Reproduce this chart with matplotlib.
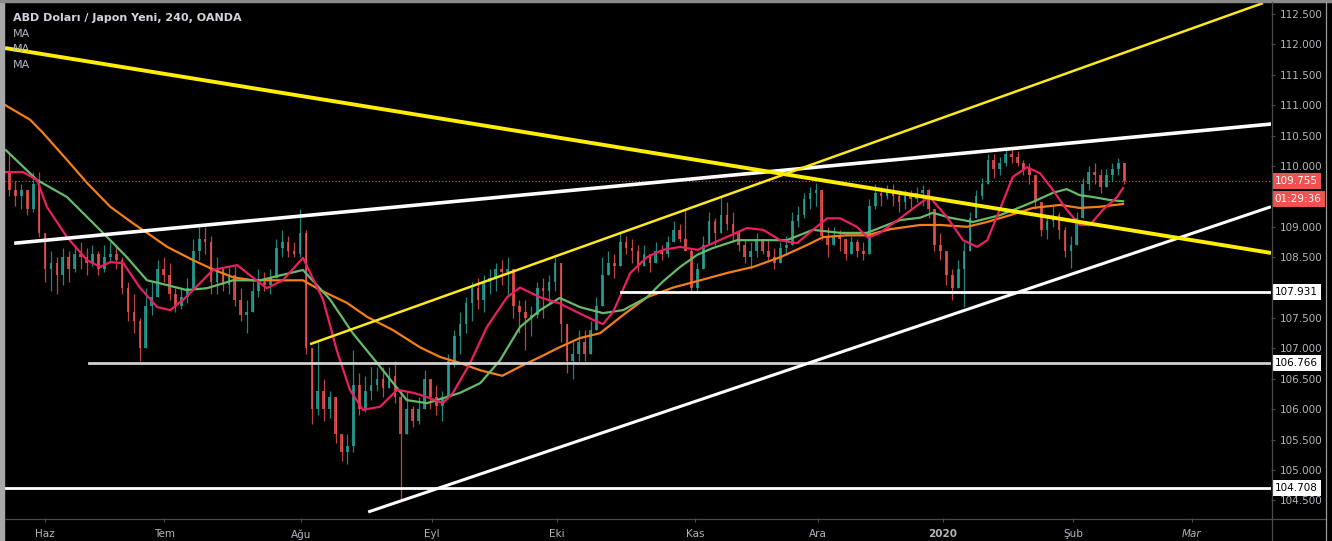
import numpy as np
import matplotlib
import matplotlib.pyplot as plt
from matplotlib.lines import Line2D
from matplotlib.patches import Rectangle
from matplotlib.transforms import blended_transform_factory

matplotlib.use('Agg')
plt.rcParams['font.family'] = ['DejaVu Sans']

W, H = 1332, 541

# daily sessions, index 0 = first session of June 2019
first_day = -6
closes = [
    109.6, 109.5, 109.6, 109.3, 109.7, 108.9, 108.3, 108.4, 108.2, 108.5,
    108.3, 108.55, 108.5, 108.4, 108.55, 108.3, 108.5, 108.55, 108.45, 108.0,
    107.6, 107.45, 107.0, 107.7, 107.85, 108.3, 108.2, 107.9, 107.7, 107.85,
    108.0, 108.6, 108.8, 108.75, 108.1, 108.3, 108.05, 108.2, 107.8, 107.55,
    107.6, 107.95, 108.1, 108.05, 108.15, 108.65, 108.75, 108.6, 108.55, 108.9,
    107.0, 106.0, 106.3, 106.0, 106.2, 105.6, 105.3, 105.4, 106.4, 106.0,
    106.3, 106.4, 106.5, 106.35, 106.55, 106.2, 105.6, 106.0, 105.8, 106.0,
    106.5, 106.2, 106.05, 106.2, 106.8, 107.2, 107.4, 107.75, 108.0, 107.8,
    108.1, 108.15, 108.3, 108.25, 108.3, 107.7, 107.6, 107.5, 107.55, 108.0,
    107.95, 108.1, 108.4, 107.4, 106.8, 106.9, 107.1, 106.9, 107.3, 107.7,
    108.2, 108.4, 108.35, 108.75, 108.65, 108.6, 108.35, 108.55, 108.4, 108.6,
    108.55, 108.75, 108.95, 108.8, 108.6, 108.0, 108.3, 108.7, 109.1, 108.9,
    109.2, 109.05, 108.9, 108.7, 108.5, 108.6, 108.8, 108.6, 108.5, 108.4,
    108.65, 108.7, 109.1, 109.2, 109.45, 109.55, 109.6, 108.85, 108.7, 108.85,
    108.8, 108.55, 108.75, 108.6, 108.55, 109.35, 109.55, 109.5, 109.6, 109.5,
    109.4, 109.5, 109.45, 109.55, 109.6, 109.3, 108.7, 108.6, 108.2, 108.0,
    108.3, 108.6, 109.15, 109.5, 109.7, 110.1, 109.95, 110.05, 110.2, 110.15,
    110.05, 109.95, 109.85, 109.4, 108.95, 109.1, 109.2, 108.95, 108.6, 108.7,
    109.15, 109.7, 109.9, 109.85, 109.65, 109.85, 109.95, 110.05, 109.755,
]
highs = [
    110.2, 109.75, 109.7, 109.6, 109.9, 109.9, 108.6, 108.6, 108.5, 108.65,
    108.6, 108.7, 108.75, 108.65, 108.7, 108.6, 108.7, 108.75, 108.7, 108.5,
    108.1, 107.9, 107.5, 108.0, 108.1, 108.45, 108.5, 108.4, 108.0, 108.0,
    108.15, 108.8, 109.0, 109.0, 108.85, 108.5, 108.3, 108.35, 108.35, 108.0,
    107.8, 108.1, 108.3, 108.25, 108.3, 108.8, 108.95, 108.85, 108.75, 109.3,
    108.95, 107.0, 107.1, 106.5, 106.3, 106.0, 105.6, 105.6, 106.97, 106.6,
    106.55, 106.7, 106.7, 106.7, 106.7, 106.8, 106.3, 106.3, 106.05, 106.2,
    106.65, 106.5, 106.4, 106.3, 106.9, 107.3, 107.6, 107.85, 108.1, 108.15,
    108.2, 108.3, 108.4, 108.45, 108.5, 108.1, 107.8, 107.8, 107.7, 108.1,
    108.15, 108.2, 108.5, 108.4, 107.3, 107.1, 107.3, 107.3, 107.45, 107.85,
    108.5, 108.6, 108.55, 108.9, 108.85, 108.8, 108.7, 108.7, 108.55, 108.75,
    108.7, 108.85, 109.1, 109.05, 109.27, 108.65, 108.4, 108.85, 109.25, 109.15,
    109.5, 109.4, 109.25, 108.95, 108.8, 108.75, 108.9, 108.8, 108.8, 108.65,
    108.75, 108.85, 109.25, 109.35, 109.55, 109.65, 109.72, 109.6, 109.0, 109.0,
    108.95, 108.8, 108.85, 108.8, 108.75, 109.45, 109.7, 109.65, 109.68, 109.7,
    109.6, 109.6, 109.6, 109.65, 109.68, 109.62, 109.25, 108.9, 108.6, 108.3,
    108.45, 108.75, 109.25, 109.6, 109.8, 110.2, 110.2, 110.15, 110.3, 110.28,
    110.25, 110.1, 110.05, 109.75, 109.35, 109.2, 109.35, 109.25, 109.0, 108.85,
    109.25, 109.8, 110.0, 110.05, 109.95, 109.95, 110.05, 110.13, 110.0,
]
lows = [
    109.5, 109.35, 109.3, 109.2, 109.25, 108.83, 108.1, 107.95, 107.9, 108.05,
    108.1, 108.25, 108.3, 108.2, 108.35, 108.2, 108.25, 108.4, 108.3, 107.9,
    107.45, 107.25, 106.8, 107.0, 107.55, 107.85, 108.1, 107.8, 107.6, 107.65,
    107.75, 108.1, 108.45, 108.55, 107.9, 107.9, 107.95, 107.9, 107.7, 107.45,
    107.25, 107.6, 107.85, 107.95, 107.9, 108.35, 108.5, 108.5, 108.5, 108.5,
    106.9, 105.75, 105.9, 105.8, 105.85, 105.45, 105.15, 105.1, 105.3, 105.9,
    105.95, 106.15, 106.3, 106.2, 106.4, 106.1, 104.5, 105.65, 105.7, 105.75,
    106.1, 106.0, 105.9, 105.8, 106.3, 106.7, 106.9, 107.25, 107.45, 107.65,
    107.6, 107.9, 107.95, 108.05, 107.85, 107.5, 107.25, 106.97, 107.2, 107.5,
    107.5, 107.75, 107.95, 107.1, 106.6, 106.5, 106.8, 106.8, 107.0, 107.3,
    107.8, 108.25, 108.15, 108.5, 108.55, 108.4, 108.25, 108.35, 108.25, 108.4,
    108.45, 108.5, 108.8, 108.75, 108.6, 107.93, 107.95, 108.4, 108.75, 108.7,
    109.0, 108.95, 108.75, 108.6, 108.4, 108.3, 108.5, 108.55, 108.45, 108.3,
    108.4, 108.55, 108.8, 109.0, 109.15, 109.3, 109.35, 108.78, 108.5, 108.7,
    108.6, 108.45, 108.55, 108.5, 108.45, 108.6, 109.3, 109.35, 109.45, 109.35,
    109.25, 109.3, 109.3, 109.4, 109.35, 109.15, 108.6, 108.45, 108.05, 107.8,
    108.0, 107.68, 108.6, 109.15, 109.45, 109.7, 109.8, 109.85, 110.0, 110.05,
    110.0, 109.85, 109.7, 109.3, 108.85, 108.8, 109.0, 108.8, 108.5, 108.32,
    108.7, 109.15, 109.6, 109.7, 109.55, 109.65, 109.75, 109.85, 109.7,
]
first_open = 109.9

# moving averages (session index, price)
ma_fast_x = [-6.6, -3.7, -1.35, 0.3, 3.7, 7.1, 9.3, 11.0, 13.2, 16.0, 18.9, 21.1, 23.3, 26.1,
             28.3, 32.4, 34.6, 37.4, 40.1, 43.5, 46.9, 49.2, 51.4, 53.6, 56.5, 59.4, 62.1,
             64.4, 67.1, 68.8, 71.7, 74.5, 77.9, 80.1, 83.5, 86.8, 89.0, 92.4, 94.1, 95.8,
             98.7, 101.5, 104.2, 107.1, 110.0, 112.6, 118.4, 121.1, 124.0, 126.8, 129.5,
             131.9, 134.1, 136.9, 138.8, 140.8, 144.2, 147.6, 149.2, 152.1, 154.8, 157.2,
             158.9, 161.0, 163.2, 165.6, 167.8, 170.0, 172.3, 174.5, 176.2, 178.4, 180.8, 181.8]
ma_fast_y = [109.9, 109.9, 109.77, 109.33, 108.83, 108.45, 108.34, 108.42, 108.4, 108.0, 107.68,
             107.63, 107.8, 108.07, 108.29, 108.37, 108.2, 107.99, 108.12, 108.49, 107.8, 106.97,
             106.32, 105.99, 106.04, 106.32, 106.27, 106.2, 106.1, 106.27, 106.76, 107.35, 107.84,
             108.0, 107.84, 107.74, 107.63, 107.47, 107.4, 107.6, 108.24, 108.5, 108.62, 108.67,
             108.62, 108.73, 108.98, 108.95, 108.78, 108.73, 108.95, 109.14, 109.14, 109.0, 108.82,
             108.9, 109.14, 109.39, 109.49, 109.16, 108.78, 108.67, 108.78, 109.28, 109.82, 109.98,
             109.88, 109.6, 109.28, 109.03, 109.03, 109.28, 109.49, 109.64]

ma_mid_x = [-6.6, -1.35, 3.7, 7.1, 11.0, 13.8, 17.2, 19.4, 23.9, 27.3, 31.7, 36.3, 39.6, 43.5,
            48.1, 51.9, 56.0, 58.7, 61.0, 64.4, 67.1, 70.0, 73.4, 76.7, 80.1, 83.5, 86.8, 90.2,
            94.1, 97.5, 101.5, 104.2, 107.1, 110.0, 112.6, 116.7, 121.1, 125.1, 129.5, 134.1,
            138.6, 142.0, 144.2, 147.6, 149.7, 152.6, 156.5, 161.0, 163.9, 166.6, 170.0, 172.3,
            174.5, 176.7, 179.6, 181.8]
ma_mid_y = [110.26, 109.77, 109.49, 109.16, 108.78, 108.5, 108.12, 108.07, 107.96, 107.99, 108.12,
            108.12, 108.2, 108.29, 107.8, 107.25, 106.76, 106.43, 106.15, 106.1, 106.18, 106.27,
            106.43, 106.8, 107.35, 107.63, 107.83, 107.68, 107.58, 107.63, 107.84, 108.1, 108.34,
            108.54, 108.65, 108.78, 108.78, 108.78, 108.95, 108.9, 108.9, 109.03, 109.11, 109.15,
            109.23, 109.15, 109.08, 109.19, 109.3, 109.41, 109.56, 109.62, 109.52, 109.49, 109.44,
            109.42]

ma_slow_x = [-6.7, -2.5, -0.3, 3.7, 7.1, 11.0, 14.8, 17.2, 20.6, 25.0, 28.3, 31.7, 35.1, 39.6,
             43.5, 46.4, 50.9, 54.3, 58.7, 63.2, 66.6, 70.0, 73.4, 77.1, 80.1, 83.5, 86.8, 90.2,
             93.6, 97.5, 101.5, 105.9, 110.5, 115.0, 119.4, 124.0, 128.5, 131.2, 135.2, 138.6,
             142.5, 147.6, 151.0, 155.5, 158.9, 162.7, 166.6, 171.2, 174.5, 177.9, 181.8]
ma_slow_y = [111.0, 110.76, 110.54, 110.1, 109.72, 109.33, 109.06, 108.9, 108.67, 108.45, 108.3,
             108.17, 108.12, 108.12, 108.12, 107.96, 107.75, 107.52, 107.3, 107.02, 106.86, 106.76,
             106.64, 106.55, 106.7, 106.86, 107.02, 107.17, 107.25, 107.55, 107.84, 108.0, 108.12,
             108.24, 108.34, 108.5, 108.7, 108.83, 108.86, 108.86, 108.96, 109.03, 109.03, 109.0,
             109.08, 109.19, 109.31, 109.36, 109.31, 109.33, 109.375]

# drawings: (x0, y0, x1, y1)
yellow_fall = (-6.75, 111.94, 206.75, 108.57)
yellow_rise = (44.7, 107.07, 205.4, 112.68)
white_upper = (-5.2, 108.73, 206.75, 110.69)
white_lower = (54.5, 104.31, 206.75, 109.33)
levels = [107.931, 106.766, 104.708]
level_start = [97.1, 7.4, -7.0]
last_price = 109.755
countdown = '01:29:36'

# 108.000 and 109.500 sit under the price tags, so they are not shown
price_ticks = [104.5, 105.0, 105.5, 106.0, 106.5, 107.0, 107.5, 108.5,
               109.0, 110.0, 110.5, 111.0, 111.5, 112.0, 112.5]
month_pos = [0, 20.1, 43.2, 65.3, 86.3, 109.6, 130.3, 151.4, 173.4, 193.4]
month_labels = ['Haz', 'Tem', 'Ağu', 'Eyl', 'Eki', 'Kas', 'Ara', '2020', 'Şub', 'Mar']

up_col, down_col = '#26a69a', '#ef5350'

fig = plt.figure(figsize=(W / 100, H / 100), dpi=100, facecolor='black')
ax = fig.add_axes([5 / W, 23 / H, 1266 / W, 516 / H], facecolor='black')
ax.set_xlim(-6.75, 206.75)
ax.set_ylim(104.211, 112.697)

days = np.arange(first_day, first_day + len(closes))
c = np.array(closes)
o = np.concatenate([[first_open], c[:-1]])
hi = np.maximum(np.array(highs), np.maximum(o, c))
lo = np.minimum(np.array(lows), np.minimum(o, c))
up = c >= o
colors = np.where(up, up_col, down_col)

ax.vlines(days, lo, hi, colors=colors, lw=0.9, alpha=0.8, zorder=2)
ax.bar(days, np.maximum(np.abs(c - o), 0.02), bottom=np.minimum(o, c), width=0.45,
       color=colors, alpha=0.8, zorder=2, linewidth=0)

ax.plot(ma_slow_x, ma_slow_y, color='#f57f17', lw=1.6, zorder=3)
ax.plot(ma_mid_x, ma_mid_y, color='#66bb6a', lw=1.6, zorder=3)
ax.plot(ma_fast_x, ma_fast_y, color='#e91e63', lw=1.6, zorder=3)

ax.axhline(last_price, color='#ef5350', lw=0.8, ls=(0, (1, 2)), zorder=3)

for lv, x0 in zip(levels, level_start):
    col = '#d0d0d0' if lv == 106.766 else 'white'
    ax.plot([x0, 206.75], [lv, lv], color=col, lw=2, zorder=4)

for seg, col, lw in [(white_upper, 'white', 2.6), (white_lower, 'white', 2.2),
                     (yellow_rise, '#ffe81a', 1.8), (yellow_fall, '#ffee00', 2.8)]:
    ax.plot([seg[0], seg[2]], [seg[1], seg[3]], color=col, lw=lw, zorder=5,
            solid_capstyle='butt')

for s in ax.spines.values():
    s.set_visible(False)

ax.yaxis.tick_right()
ax.set_yticks(price_ticks)
ax.set_yticklabels([f'{t:.3f}' for t in price_ticks])
ax.tick_params(axis='y', colors='#4a4a4a', labelcolor='#b2b5be', labelsize=7.5,
               length=3, width=0.8, pad=3)
ax.set_xticks(month_pos)
ax.set_xticklabels(month_labels)
ax.tick_params(axis='x', colors='#4a4a4a', labelcolor='#b2b5be', labelsize=7.5,
               length=3, width=0.8, pad=5)
for lab in ax.get_xticklabels():
    if lab.get_text() == '2020':
        lab.set_fontweight('bold')
    if lab.get_text() == 'Mar':
        lab.set_fontstyle('italic')

# price tags on the right axis
tr = blended_transform_factory(ax.transAxes, ax.transData)
for lv in levels:
    ax.text(1.003, lv, f'{lv:.3f}', transform=tr, ha='left', va='center', fontsize=7.5,
            color='black', bbox=dict(boxstyle='square,pad=0.3', fc='white', ec='none'),
            zorder=10, clip_on=False)
ax.text(1.003, last_price, f'{last_price:.3f}', transform=tr, ha='left', va='center',
        fontsize=7.5, color='white', zorder=10, clip_on=False,
        bbox=dict(boxstyle='square,pad=0.3', fc='#ef5350', ec='none'))
ax.annotate(countdown, xy=(1.003, last_price), xycoords=tr, xytext=(0, -13),
            textcoords='offset points', ha='left', va='center', fontsize=7.5,
            color='white', annotation_clip=False, zorder=10,
            bbox=dict(boxstyle='square,pad=0.3', fc='#ef5350', ec='none'))

# frame of the screenshot
def fx(px):
    return px / W

def fy(py):
    return 1 - py / H

frame = '#4a4a4a'
fig.add_artist(Line2D([fx(1271.5), fx(1271.5)], [fy(2), fy(541)], color=frame, lw=0.9))
fig.add_artist(Line2D([fx(5), fx(1326)], [fy(518.5), fy(518.5)], color=frame, lw=0.9))
fig.add_artist(Line2D([fx(1326), fx(1326)], [fy(2), fy(541)], color='#9a9a9a', lw=0.9))
fig.add_artist(Rectangle((0, 0), fx(4), 1, transform=fig.transFigure, color='#a8a8a8'))
fig.add_artist(Rectangle((0, fy(1.5)), 1, 1.5 / H, transform=fig.transFigure, color='#8a8a8a'))

fig.text(fx(13), fy(18), 'ABD Doları / Japon Yeni, 240, OANDA', fontsize=8, fontweight='bold',
         color='#d1d4dc', va='center', ha='left')
for i in range(3):
    fig.text(fx(13), fy(34 + 15.5 * i), 'MA', fontsize=8, color='#b2b5be', va='center', ha='left')

fig.savefig('out.png', dpi=100, facecolor='black')
plt.close(fig)
